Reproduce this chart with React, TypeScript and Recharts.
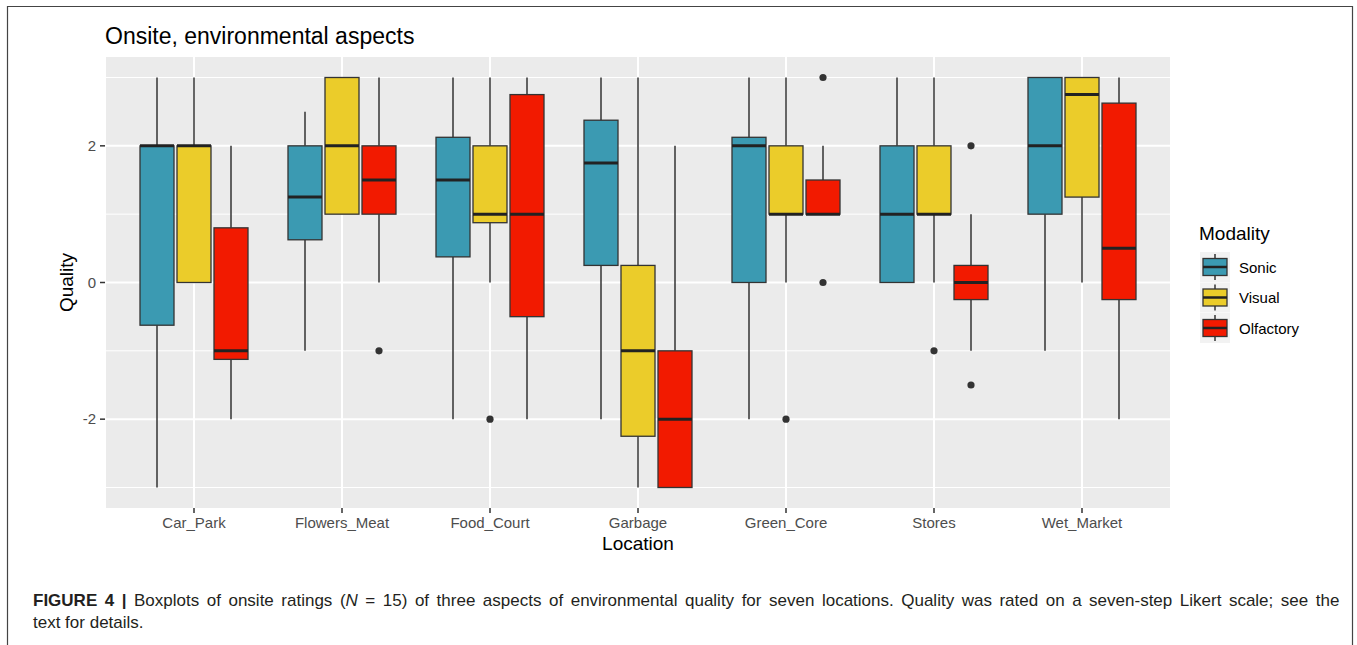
import React from 'react';
import { ComposedChart, Bar, XAxis, YAxis, CartesianGrid, Legend, Label } from 'recharts';

const locations = ['Car_Park', 'Flowers_Meat', 'Food_Court', 'Garbage', 'Green_Core', 'Stores', 'Wet_Market'];
const modalities = ['Sonic', 'Visual', 'Olfactory'];
const seriesKeys = ['sonic', 'visual', 'olfactory'];
const modalityColors = ['#3B9AB2', '#EBCC2A', '#F21A00'];
const yTicks = [-2, 0, 2];
const yMinorTicks = [-3, -1, 1, 3];
const yDomain = [-3.3, 3.3];

// [lower whisker, Q1, median, Q3, upper whisker]
const sonicStats = [
  [-3, -0.625, 2, 2, 3],
  [-1, 0.625, 1.25, 2, 2.5],
  [-2, 0.375, 1.5, 2.125, 3],
  [-2, 0.25, 1.75, 2.375, 3],
  [-2, 0, 2, 2.125, 3],
  [0, 0, 1, 2, 3],
  [-1, 1, 2, 3, 3],
];
const visualStats = [
  [0, 0, 2, 2, 3],
  [1, 1, 2, 3, 3],
  [0, 0.875, 1, 2, 3],
  [-3, -2.25, -1, 0.25, 3],
  [0, 1, 1, 2, 3],
  [0, 1, 1, 2, 3],
  [0, 1.25, 2.75, 3, 3],
];
const olfactoryStats = [
  [-2, -1.125, -1, 0.8, 2],
  [0, 1, 1.5, 2, 3],
  [-2, -0.5, 1, 2.75, 3],
  [-3, -3, -2, -1, 2],
  [1, 1, 1, 1.5, 2],
  [-1, -0.25, 0, 0.25, 1],
  [-2, -0.25, 0.5, 2.625, 3],
];
const sonicOutliers = [[], [], [], [], [], [], []];
const visualOutliers = [[], [], [-2], [], [-2], [-1], []];
const olfactoryOutliers = [[], [-1], [], [], [3, 0], [2, -1.5], []];

const statsBySeries = [sonicStats, visualStats, olfactoryStats];
const outliersBySeries = [sonicOutliers, visualOutliers, olfactoryOutliers];

const data = locations.map((location, i) => {
  const row: any = { location };
  seriesKeys.forEach((k, s) => {
    const st = statsBySeries[s][i];
    row[k + 'Range'] = [st[0], st[4]];
    row[k + 'Stats'] = st;
    row[k + 'Outliers'] = outliersBySeries[s][i];
  });
  return row;
});

const INK = '#333333';

const makeBoxShape = (key: string, color: string) => (props: any) => {
  const { x, y, width, height, payload } = props;
  if (!payload) return null;
  const st: number[] = payload[key + 'Stats'];
  const out: number[] = payload[key + 'Outliers'] || [];
  const lo = st[0];
  const hi = st[4];
  const top = Math.min(y, y + height);
  const bottom = Math.max(y, y + height);
  const pix = (v: number) => top + ((bottom - top) * (hi - v)) / (hi - lo);
  const cx = x + width / 2;
  const q3y = pix(st[3]);
  const q1y = pix(st[1]);
  return (
    <g>
      <line x1={cx} x2={cx} y1={pix(hi)} y2={q3y} stroke={INK} strokeWidth={1.5} />
      <line x1={cx} x2={cx} y1={q1y} y2={pix(lo)} stroke={INK} strokeWidth={1.5} />
      <rect x={x} y={q3y} width={width} height={q1y - q3y} fill={color} stroke={INK} strokeWidth={1.3} />
      <line x1={x} x2={x + width} y1={pix(st[2])} y2={pix(st[2])} stroke="#222" strokeWidth={3} />
      {out.map((v, j) => (
        <circle key={j} cx={cx} cy={pix(v)} r={3.6} fill={INK} />
      ))}
    </g>
  );
};

const renderLegend = () => (
  <svg width={170} height={140} style={{ overflow: 'visible', position: 'absolute', left: 0, top: 0 }}>
    <text x={9} y={30} fontSize={19} fill="#000" fontFamily="Liberation Sans, Arial, sans-serif">
      Modality
    </text>
    {modalities.map((m, i) => {
      const cy = 57 + i * 30.5;
      return (
        <g key={m}>
          <rect x={10} y={cy - 15} width={30} height={30} fill="#F2F2F2" />
          <line x1={25} x2={25} y1={cy - 13} y2={cy + 13} stroke={INK} strokeWidth={1.5} />
          <rect x={13} y={cy - 8.5} width={24} height={17} fill={modalityColors[i]} stroke={INK} strokeWidth={1.3} />
          <line x1={13} x2={37} y1={cy} y2={cy} stroke="#222" strokeWidth={2.5} />
          <text x={49} y={cy + 5.5} fontSize={15} fill="#000" fontFamily="Liberation Sans, Arial, sans-serif">
            {m}
          </text>
        </g>
      );
    })}
  </svg>
);

export default function App() {
  const font = 'Liberation Sans, Arial, sans-serif';
  return (
    <div
      style={{
        position: 'absolute',
        left: 0,
        top: 0,
        width: 1357,
        height: 645,
        background: '#fff',
        overflow: 'hidden',
        fontFamily: font,
      }}
    >
      <ComposedChart
        width={1357}
        height={645}
        data={data}
        margin={{ top: 57, right: 186, bottom: 87, left: 0 }}
        barGap={3}
        style={{ fontFamily: font }}
      >
        <CartesianGrid
          fill="#EBEBEB"
          fillOpacity={1}
          stroke="#FFFFFF"
          strokeWidth={2}
          horizontalValues={yTicks}
        />
        <CartesianGrid stroke="#FFFFFF" strokeWidth={1} vertical={false} horizontalValues={yMinorTicks} />
        <XAxis
          dataKey="location"
          type="category"
          interval={0}
          height={50}
          padding={{ left: 15, right: 15 }}
          axisLine={false}
          tickLine={{ stroke: INK, strokeWidth: 1.5 }}
          tickSize={5}
          tickMargin={4}
          tick={{ fill: '#4D4D4D', fontSize: 15 }}
        >
          <Label value="Location" position="insideTop" offset={29} fill="#000" fontSize={19} />
        </XAxis>
        <YAxis
          type="number"
          domain={yDomain}
          ticks={yTicks}
          interval={0}
          width={105}
          allowDataOverflow
          axisLine={false}
          tickLine={{ stroke: INK, strokeWidth: 1.5 }}
          tickSize={5}
          tickMargin={4}
          tick={{ fill: '#4D4D4D', fontSize: 15 }}
        >
          <Label
            value="Quality"
            angle={-90}
            position="insideLeft"
            offset={66}
            fill="#000"
            fontSize={19}
            style={{ textAnchor: 'middle' }}
          />
        </YAxis>
        <Legend
          layout="vertical"
          align="right"
          verticalAlign="middle"
          content={renderLegend}
          wrapperStyle={{ left: 1190, top: 210, width: 0, height: 0, right: 'auto', bottom: 'auto' }}
        />
        {seriesKeys.map((k, s) => (
          <Bar
            key={k}
            dataKey={k + 'Range'}
            name={modalities[s]}
            fill={modalityColors[s]}
            barSize={34}
            isAnimationActive={false}
            shape={makeBoxShape(k, modalityColors[s])}
          />
        ))}
      </ComposedChart>
      <svg
        width={1357}
        height={645}
        style={{ position: 'absolute', left: 0, top: 0, pointerEvents: 'none' }}
        fontFamily={font}
      >
        <path d="M7.5,645 V6.5 H1352.5 V645" fill="none" stroke="#444" strokeWidth={1.2} />
        <text x={105} y={44} fontSize={23} fill="#000">
          Onsite, environmental aspects
        </text>
        <text x={33} y={606} fontSize={17} fill="#231F20" wordSpacing={2.8}>
          <tspan fontWeight="bold">FIGURE 4 | </tspan>
          Boxplots of onsite ratings (<tspan fontStyle="italic">N</tspan> = 15) of three aspects of environmental quality for seven locations. Quality was rated on a seven-step Likert scale; see the
        </text>
        <text x={33} y={628} fontSize={17} fill="#231F20">
          text for details.
        </text>
      </svg>
    </div>
  );
}
